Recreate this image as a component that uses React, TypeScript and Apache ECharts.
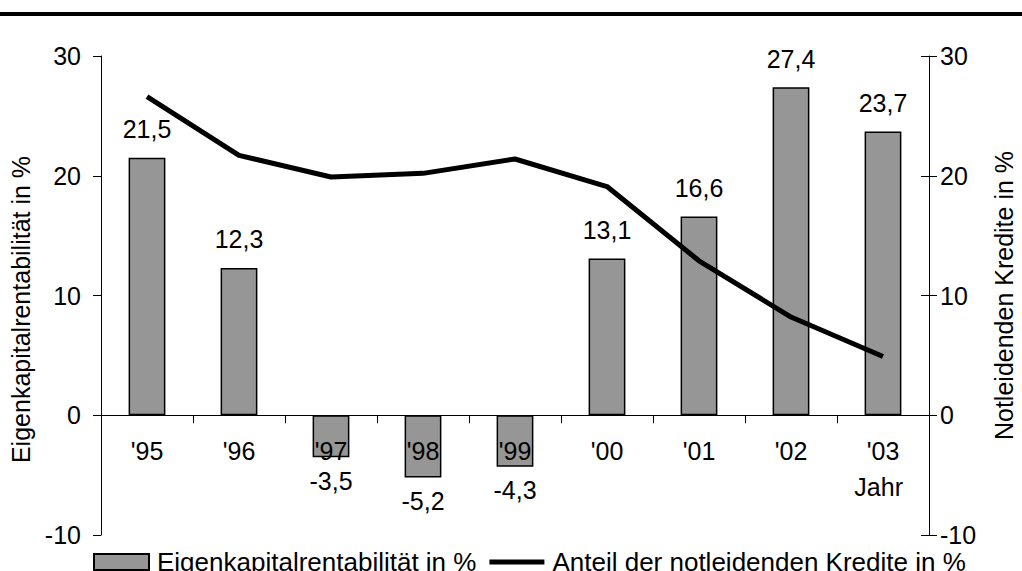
import React, { useEffect, useRef } from "react";
import * as echarts from "echarts";

const years = ["'95", "'96", "'97", "'98", "'99", "'00", "'01", "'02", "'03"];
const equityReturn = [21.5, 12.3, -3.5, -5.2, -4.3, 13.1, 16.6, 27.4, 23.7];
const badLoans = [26.6, 21.7, 19.9, 20.2, 21.4, 19.1, 12.9, 8.2, 4.9];
const barName = "Eigenkapitalrentabilität in %";
const lineName = "Anteil der notleidenden Kredite in %";
const leftAxisName = "Eigenkapitalrentabilität in %";
const rightAxisName = "Notleidenden Kredite in %";
const xAxisUnit = "Jahr";

const FONT = "'Liberation Sans', Arial, sans-serif";
const FS = 25;

export default function App() {
  const ref = useRef<HTMLDivElement>(null);
  useEffect(() => {
    if (!ref.current) return;
    const chart = echarts.init(ref.current, null, { renderer: "svg" });
    const fmt = (v: number) => String(v).replace(".", ",");
    chart.setOption({
      animation: false,
      backgroundColor: "#ffffff",
      textStyle: { fontFamily: FONT, color: "#000" },
      grid: { left: 101, right: 93, top: 56, bottom: 36, containLabel: false, outerBoundsMode: "none" },
      legend: {
        left: 93,
        top: 549,
        padding: 0,
        itemWidth: 55,
        itemHeight: 16,
        itemGap: 13,
        textStyle: { fontSize: 26, fontFamily: FONT, color: "#000", padding: [0, 0, 0, 3] },
        data: [
          { name: barName, icon: "rect" },
          { name: lineName, icon: "path://M0,0L56,0L56,5L0,5Z", itemStyle: { color: "#000" } },
        ],
      },
      graphic: [
        { type: "rect", shape: { x: 0, y: 12, width: 1022, height: 4 }, style: { fill: "#000" } },
        {
          type: "text",
          x: 903,
          y: 487,
          style: { text: xAxisUnit, fontSize: FS, fontFamily: FONT, fill: "#000", align: "right", verticalAlign: "middle" },
        },
      ],
      xAxis: {
        type: "category",
        data: years,
        z: 5,
        axisLine: { onZero: true, onZeroAxisIndex: 0, lineStyle: { color: "#000", width: 1 } },
        axisTick: { show: true, length: 8, lineStyle: { color: "#000" } },
        axisLabel: { fontSize: FS, fontFamily: FONT, color: "#000", margin: -97 },
        splitLine: { show: false },
      },
      yAxis: [
        {
          type: "value",
          min: -10,
          max: 30,
          interval: 10,
          position: "left",
          name: leftAxisName,
          nameLocation: "middle",
          nameGap: 59,
          nameRotate: 90,
          nameTextStyle: { fontSize: FS, fontFamily: FONT, color: "#000", padding: [0, 28, 0, 0] },
          axisLine: { show: true, onZero: false, lineStyle: { color: "#000" } },
          axisTick: { show: true, length: 8, lineStyle: { color: "#000" } },
          axisLabel: { fontSize: FS, fontFamily: FONT, color: "#000", margin: 20, formatter: (v: number) => fmt(v) },
          splitLine: { show: false },
        },
        {
          type: "value",
          min: -10,
          max: 30,
          interval: 10,
          position: "right",
          name: rightAxisName,
          nameLocation: "middle",
          nameGap: 62,
          nameRotate: 90,
          nameTextStyle: { fontSize: FS, fontFamily: FONT, color: "#000" },
          axisLine: { show: true, onZero: false, lineStyle: { color: "#000" } },
          axisTick: { show: true, length: 8, lineStyle: { color: "#000" } },
          axisLabel: { fontSize: FS, fontFamily: FONT, color: "#000", margin: 11 },
          splitLine: { show: false },
        },
        {
          type: "value",
          min: -10,
          max: 30,
          interval: 10,
          position: "right",
          axisLine: { show: false, onZero: false },
          axisTick: { show: true, inside: true, length: 8, lineStyle: { color: "#000" } },
          axisLabel: { show: false },
          splitLine: { show: false },
        },
      ],
      series: [
        {
          name: barName,
          type: "bar",
          yAxisIndex: 0,
          barWidth: "40%",
          itemStyle: { color: "#969696", borderColor: "#000", borderWidth: 1.5 },
          data: equityReturn.map((v) => ({
            value: v,
            label: {
              show: true,
              position: v >= 0 ? "top" : "bottom",
              distance: v >= 0 ? 16 : 11,
              fontSize: FS,
              lineHeight: 25,
              fontFamily: FONT,
              color: "#000",
              formatter: () => fmt(v),
            },
          })),
        },
        {
          name: lineName,
          type: "line",
          yAxisIndex: 1,
          symbol: "none",
          z: 4,
          lineStyle: { color: "#000", width: 5 },
          itemStyle: { color: "#000" },
          data: badLoans,
        },
      ],
    });
    return () => chart.dispose();
  }, []);
  return (
    <div
      ref={ref}
      style={{ position: "fixed", left: 0, top: 0, width: 1022, height: 571, background: "#fff" }}
    />
  );
}
